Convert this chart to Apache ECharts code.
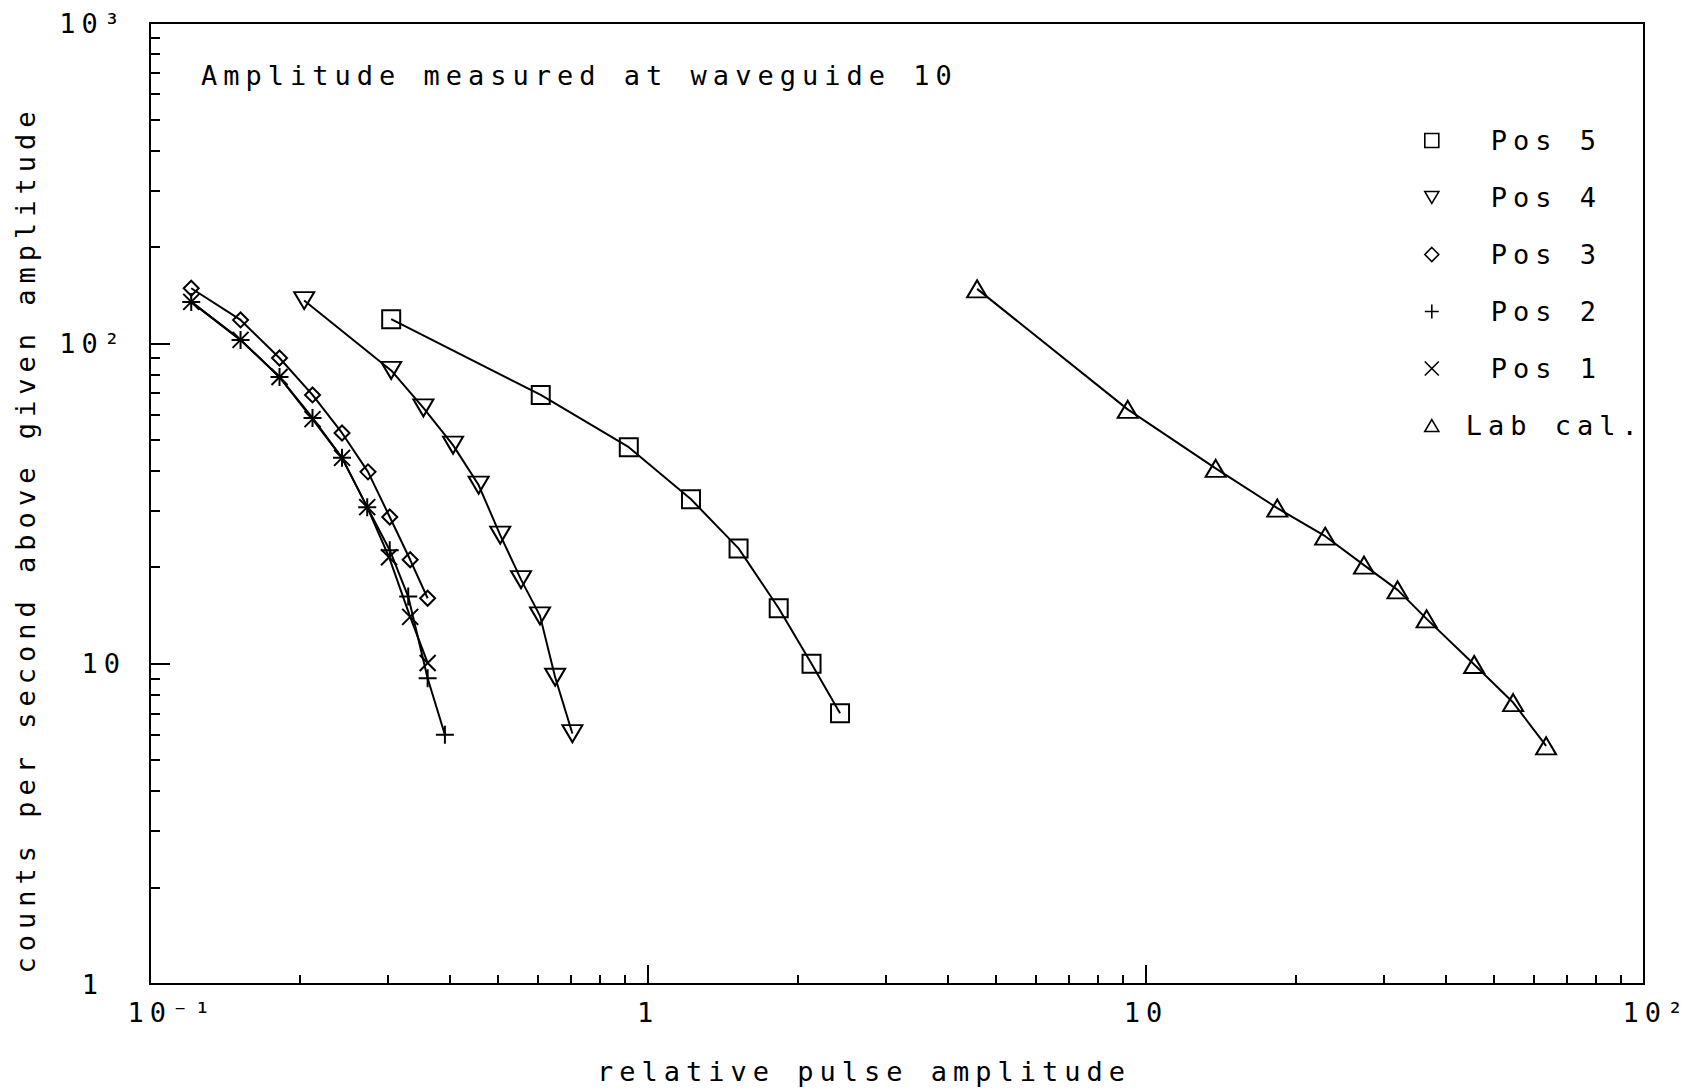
<!DOCTYPE html>
<html>
<head>
<meta charset="utf-8">
<title>Amplitude measured at waveguide 10</title>
<script src="https://cdn.jsdelivr.net/npm/echarts@6/dist/echarts.min.js"></script>
<style>
    html, body { margin: 0; padding: 0; background: #fff; }
    #chart { width: 1688px; height: 1091px; }
    /* plotter lettering: evenly spaced wide characters */
    #chart text { letter-spacing: 6px; }
</style>
</head>
<body>
<div id="chart"></div>
<script>
// relative pulse amplitude / counts per second
const pos5X = [0.305, 0.609, 0.915, 1.22, 1.52, 1.83, 2.13, 2.43];
const pos5Y = [119, 69, 47.4, 32.6, 22.9, 14.9, 10.0, 7.0];

const pos4X = [0.204, 0.305, 0.354, 0.406, 0.457, 0.505, 0.556, 0.607, 0.651, 0.705];
const pos4Y = [136, 82.3, 62.9, 48.1, 36.1, 25.2, 18.3, 14.1, 9.07, 6.05];

const pos3X = [0.121, 0.152, 0.182, 0.212, 0.243, 0.274, 0.303, 0.333, 0.361];
const pos3Y = [148.6, 118.3, 90.0, 69.0, 52.5, 39.7, 28.7, 21.1, 16.0];

const pos2X = [0.121, 0.152, 0.182, 0.212, 0.243, 0.273, 0.303, 0.330, 0.361, 0.391];
const pos2Y = [134.7, 102.5, 78.5, 58.5, 43.9, 30.8, 22.6, 16.2, 9.0, 6.0];

const pos1X = [0.121, 0.152, 0.182, 0.212, 0.243, 0.273, 0.302, 0.333, 0.361];
const pos1Y = [134.7, 102.5, 78.5, 58.0, 43.9, 30.8, 21.5, 14.0, 10.05];

const labCalX = [4.58, 9.19, 13.8, 18.35, 22.9, 27.4, 32.0, 36.6, 45.6, 54.6, 63.6];
const labCalY = [147.9, 62.2, 40.7, 30.6, 25.0, 20.3, 17.0, 13.8, 9.94, 7.56, 5.54];

const xMajorTicks = [0.1, 1, 10, 100];
const xTickLabels = ['10⁻¹', '1', '10', '10²'];
const xMinorTicks = [0.2, 0.3, 0.4, 0.5, 0.6, 0.7, 0.8, 0.9,
                     2, 3, 4, 5, 6, 7, 8, 9,
                     20, 30, 40, 50, 60, 70, 80, 90];

const yMajorTicks = [1, 10, 100, 1000];
const yTickLabels = ['1', '10', '10²', '10³'];
const yMinorTicks = [2, 3, 4, 5, 6, 7, 8, 9,
                     20, 30, 40, 50, 60, 70, 80, 90,
                     200, 300, 400, 500, 600, 700, 800, 900];

const FONT = '"DejaVu Sans Mono", monospace';
const FONT_SIZE = 27;
const INK = '#000';

const SYM_SQUARE = 'path://M0,0L18,0L18,18L0,18Z';
const SYM_DOWN = 'path://M0,0L20,0L10,17Z';
const SYM_UP = 'path://M10,0L20,17L0,17Z';
const SYM_DIAMOND = 'path://M8,0L16,8L8,16L0,8Z';
const SYM_PLUS = 'path://M0,9L18,9M9,0L9,18';
const SYM_CROSS = 'path://M0,0L16,16M16,0L0,16';

function txt(extra) {
    return Object.assign({ color: INK, fontFamily: FONT, fontSize: FONT_SIZE }, extra || {});
}

function makeSeries(name, xs, ys, symbol, size) {
    return {
        name: name,
        type: 'line',
        data: xs.map((x, i) => [x, ys[i]]),
        symbol: symbol,
        symbolSize: size,
        showAllSymbol: true,
        lineStyle: { color: INK, width: 2 },
        itemStyle: { color: 'rgba(0,0,0,0)', borderColor: INK, borderWidth: 2 },
        emphasis: { disabled: true },
        silent: true
    };
}

function logIndex(v) {
    return Math.round(Math.log10(v));
}

const chart = echarts.init(document.getElementById('chart'), null, { renderer: 'svg' });

chart.setOption({
    animation: false,
    backgroundColor: '#fff',
    title: {
        text: 'Amplitude measured at waveguide 10',
        left: 201,
        top: 62,
        padding: 0,
        textStyle: txt({ fontWeight: 'normal' })
    },
    grid: {
        left: 150,
        right: 44,
        top: 23,
        bottom: 107,
        show: true,
        borderColor: INK,
        borderWidth: 2,
        backgroundColor: 'transparent'
    },
    legend: {
        orient: 'vertical',
        left: 1419,
        top: 122,
        itemWidth: 14,
        itemHeight: 14,
        itemGap: 30,
        selectedMode: false,
        data: [
            { name: 'Pos 5', icon: SYM_SQUARE },
            { name: 'Pos 4', icon: SYM_DOWN },
            { name: 'Pos 3', icon: SYM_DIAMOND },
            { name: 'Pos 2', icon: SYM_PLUS },
            { name: 'Pos 1', icon: SYM_CROSS },
            { name: 'Lab cal.', icon: SYM_UP }
        ],
        itemStyle: { color: 'rgba(0,0,0,0)', borderColor: INK, borderWidth: 1.6 },
        formatter: name => name.indexOf('Pos') === 0 ? '{p|' + name + '}' : '{l|' + name + '}',
        textStyle: txt({
            rich: {
                p: txt({ padding: [0, 0, 0, 47] }),
                l: txt({ padding: [0, 0, 0, 22] })
            }
        })
    },
    xAxis: [
        {
            type: 'log',
            logBase: 10,
            min: 0.1,
            max: 100,
            position: 'bottom',
            axisLine: { show: true, onZero: false, lineStyle: { color: INK, width: 2 } },
            axisTick: { show: true, inside: true, length: 19, customValues: xMajorTicks,
                        lineStyle: { color: INK, width: 2 } },
            minorTick: { show: false },
            splitLine: { show: false },
            axisLabel: {
                customValues: xMajorTicks,
                margin: 15,
                formatter: v => {
                    const i = logIndex(v) + 1;
                    if (i === 0) return '{a|' + xTickLabels[i] + '}';
                    if (i === 3) return '{b|' + xTickLabels[i] + '}';
                    return xTickLabels[i];
                },
                ...txt(),
                rich: {
                    a: txt({ padding: [0, 0, 0, 44] }),
                    b: txt({ padding: [0, 0, 0, 24] })
                }
            },
            name: 'relative pulse amplitude',
            nameLocation: 'middle',
            nameGap: 74,
            nameTextStyle: txt({ padding: [0, 66, 0, 0] })
        },
        {
            type: 'log',
            logBase: 10,
            min: 0.1,
            max: 100,
            position: 'bottom',
            axisLine: { show: false },
            axisTick: { show: true, inside: true, length: 9, customValues: xMinorTicks,
                        lineStyle: { color: INK, width: 2 } },
            axisLabel: { show: false },
            splitLine: { show: false }
        }
    ],
    yAxis: [
        {
            type: 'log',
            logBase: 10,
            min: 1,
            max: 1000,
            position: 'left',
            axisLine: { show: true, onZero: false, lineStyle: { color: INK, width: 2 } },
            axisTick: { show: true, inside: true, length: 20, customValues: yMajorTicks,
                        lineStyle: { color: INK, width: 2 } },
            minorTick: { show: false },
            splitLine: { show: false },
            axisLabel: {
                customValues: yMajorTicks,
                margin: 24,
                align: 'right',
                formatter: v => {
                    const i = logIndex(v);
                    return i === 0 ? '{o|' + yTickLabels[i] + '}' : yTickLabels[i];
                },
                ...txt(),
                rich: {
                    o: txt({ padding: [0, 22, 0, 0] })
                }
            },
            name: 'counts per second above given amplitude',
            nameLocation: 'middle',
            nameGap: 111,
            nameRotate: 90,
            nameTextStyle: txt({ padding: [0, 72, 0, 0] })
        },
        {
            type: 'log',
            logBase: 10,
            min: 1,
            max: 1000,
            position: 'left',
            axisLine: { show: false },
            axisTick: { show: true, inside: true, length: 10, customValues: yMinorTicks,
                        lineStyle: { color: INK, width: 2 } },
            axisLabel: { show: false },
            splitLine: { show: false }
        }
    ],
    series: [
        makeSeries('Pos 5', pos5X, pos5Y, SYM_SQUARE, [18, 18]),
        makeSeries('Pos 4', pos4X, pos4Y, SYM_DOWN, [20, 17]),
        makeSeries('Pos 3', pos3X, pos3Y, SYM_DIAMOND, [15, 15]),
        makeSeries('Pos 2', pos2X, pos2Y, SYM_PLUS, [18, 18]),
        makeSeries('Pos 1', pos1X, pos1Y, SYM_CROSS, [16, 16]),
        makeSeries('Lab cal.', labCalX, labCalY, SYM_UP, [20, 17])
    ]
});
</script>
</body>
</html>
